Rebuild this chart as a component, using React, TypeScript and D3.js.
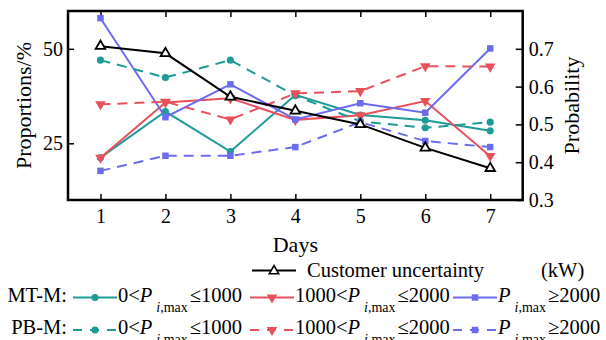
import { useEffect, useRef } from "react";
import * as d3 from "d3";

const days = [1, 2, 3, 4, 5, 6, 7];

// probability (right axis)
const customerUncertainty = [0.707, 0.688, 0.573, 0.536, 0.5, 0.438, 0.384];

// proportions in % (left axis)
const mtSmall = [21.2, 33.4, 22.8, 37.8, 32.5, 31.1, 28.3];
const mtMid = [21.2, 35.8, 36.9, 31.2, 32.4, 36.2, 21.6];
const mtLarge = [58.1, 31.9, 40.6, 31.3, 35.6, 33.1, 50.1];
const pbSmall = [47.0, 42.4, 47.0, 37.6, 30.8, 29.1, 30.6];
const pbMid = [35.3, 36.0, 31.3, 38.2, 38.8, 45.4, 45.3];
const pbLarge = [17.7, 21.7, 21.7, 24.0, 30.6, 25.6, 24.0];

const leftTicks = [25, 50];
const rightTicks = [0.3, 0.4, 0.5, 0.6, 0.7];

const rangeLabels = [
  { pre: "0<", post: "≤1000" },
  { pre: "1000<", post: "≤2000" },
  { pre: "", post: "≥2000" },
];

const TEAL = "#1f9b97";
const RED = "#e8505b";
const BLUE = "#6b6bef";
const FONT = "Liberation Serif, Times New Roman, serif";

type Marker = "circle" | "tri-down" | "square";

interface Series {
  values: number[];
  color: string;
  dashed: boolean;
  marker: Marker;
}

const series: Series[] = [
  { values: mtSmall, color: TEAL, dashed: false, marker: "circle" },
  { values: mtMid, color: RED, dashed: false, marker: "tri-down" },
  { values: mtLarge, color: BLUE, dashed: false, marker: "square" },
  { values: pbSmall, color: TEAL, dashed: true, marker: "circle" },
  { values: pbMid, color: RED, dashed: true, marker: "tri-down" },
  { values: pbLarge, color: BLUE, dashed: true, marker: "square" },
];

export default function App() {
  const svgRef = useRef<SVGSVGElement | null>(null);

  useEffect(() => {
    if (!svgRef.current) return;
    const W = 606;
    const H = 340;
    const plot = { left: 68, right: 522.7, top: 11, bottom: 200 };

    const svg = d3.select(svgRef.current);
    svg.selectAll("*").remove();
    svg.attr("width", W).attr("height", H).attr("font-family", FONT);

    const x = d3.scaleLinear().domain([0.5, 7.5]).range([plot.left, plot.right]);
    const yL = d3.scaleLinear().domain([10, 60]).range([plot.bottom, plot.top]);
    const yR = d3.scaleLinear().domain([0.3, 0.8]).range([plot.bottom, plot.top]);

    const symbolPath = (m: Marker) => {
      if (m === "circle") return d3.symbol(d3.symbolCircle, 40)()!;
      if (m === "square") return d3.symbol(d3.symbolSquare, 42)()!;
      return d3.symbol(d3.symbolTriangle, 48)()!;
    };
    const markerTransform = (m: Marker, px: number, py: number) =>
      m === "tri-down" ? `translate(${px},${py}) rotate(180)` : `translate(${px},${py})`;

    // axes
    const styleAxis = (g: d3.Selection<SVGGElement, unknown, null, undefined>) => {
      g.attr("font-family", FONT).attr("font-size", 20);
      g.select(".domain").remove();
      g.selectAll(".tick line").attr("stroke", "#000").attr("stroke-width", 1.5);
      g.selectAll(".tick text").attr("fill", "#000");
    };

    svg
      .append("g")
      .attr("transform", `translate(${plot.left},0)`)
      .call(d3.axisLeft(yL).tickValues(leftTicks).tickSize(-6).tickPadding(5).tickFormat(d3.format("d")))
      .call(styleAxis);

    svg
      .append("g")
      .attr("transform", `translate(${plot.right},0)`)
      .call(d3.axisRight(yR).tickValues(rightTicks).tickSize(-7).tickPadding(6).tickFormat(d3.format(".1f")))
      .call(styleAxis);

    svg
      .append("g")
      .attr("transform", `translate(0,${plot.bottom})`)
      .call(d3.axisBottom(x).tickValues(days).tickSize(-6).tickPadding(9).tickFormat(d3.format("d")))
      .call(styleAxis);

    svg
      .append("g")
      .attr("transform", `translate(0,${plot.top})`)
      .call(d3.axisTop(x).tickValues(days).tickSize(-6).tickFormat(() => ""))
      .call(styleAxis);

    // frame
    svg
      .append("rect")
      .attr("x", plot.left)
      .attr("y", plot.top)
      .attr("width", plot.right - plot.left)
      .attr("height", plot.bottom - plot.top)
      .attr("fill", "none")
      .attr("stroke", "#000")
      .attr("stroke-width", 2.5);

    // axis titles
    svg
      .append("text")
      .attr("transform", `translate(31,${(plot.top + plot.bottom) / 2}) rotate(-90)`)
      .attr("text-anchor", "middle")
      .attr("font-size", 22)
      .text("Proportions/%");

    svg
      .append("text")
      .attr("transform", `translate(579,${(plot.top + plot.bottom) / 2}) rotate(-90)`)
      .attr("text-anchor", "middle")
      .attr("font-size", 22)
      .text("Probability");

    svg
      .append("text")
      .attr("x", (plot.left + plot.right) / 2)
      .attr("y", 251.5)
      .attr("text-anchor", "middle")
      .attr("font-size", 22)
      .text("Days");

    // series lines
    series.forEach((s) => {
      const line = d3
        .line<number>()
        .x((_, i) => x(days[i]))
        .y((d) => yL(d));
      svg
        .append("path")
        .datum(s.values)
        .attr("d", line)
        .attr("fill", "none")
        .attr("stroke", s.color)
        .attr("stroke-width", 2)
        .attr("stroke-dasharray", s.dashed ? "10,7" : null);
      svg
        .append("g")
        .selectAll("path")
        .data(s.values)
        .enter()
        .append("path")
        .attr("d", symbolPath(s.marker))
        .attr("transform", (d, i) => markerTransform(s.marker, x(days[i]), yL(d)))
        .attr("fill", s.color);
    });

    // customer uncertainty (right axis)
    const blackLine = d3
      .line<number>()
      .x((_, i) => x(days[i]))
      .y((d) => yR(d));
    svg
      .append("path")
      .datum(customerUncertainty)
      .attr("d", blackLine)
      .attr("fill", "none")
      .attr("stroke", "#000")
      .attr("stroke-width", 2);
    svg
      .append("g")
      .selectAll("path")
      .data(customerUncertainty)
      .enter()
      .append("path")
      .attr("d", d3.symbol(d3.symbolTriangle, 40)()!)
      .attr("transform", (d, i) => `translate(${x(days[i])},${yR(d)})`)
      .attr("fill", "#fff")
      .attr("stroke", "#000")
      .attr("stroke-width", 1.8);

    // legend
    const legend = svg.append("g").attr("font-size", 20.5);

    legend
      .append("line")
      .attr("x1", 252)
      .attr("x2", 296)
      .attr("y1", 270.5)
      .attr("y2", 270.5)
      .attr("stroke", "#000")
      .attr("stroke-width", 2);
    legend
      .append("path")
      .attr("d", d3.symbol(d3.symbolTriangle, 38)()!)
      .attr("transform", "translate(274,271)")
      .attr("fill", "#fff")
      .attr("stroke", "#000")
      .attr("stroke-width", 1.6);
    legend.append("text").attr("x", 307).attr("y", 276.5).text("Customer uncertainty");
    legend.append("text").attr("x", 541).attr("y", 276.5).text("(kW)");

    const rows = [
      { label: "MT-M:", dashed: false, lineY: 297.5, baseY: 301.5 },
      { label: "PB-M:", dashed: true, lineY: 330, baseY: 333.5 },
    ];
    const colX = [73, 250, 453];
    const colors = [TEAL, RED, BLUE];
    const markers: Marker[] = ["circle", "tri-down", "square"];

    rows.forEach((r) => {
      legend
        .append("text")
        .attr("x", 67)
        .attr("y", r.baseY)
        .attr("text-anchor", "end")
        .text(r.label);

      colX.forEach((cx, j) => {
        legend
          .append("line")
          .attr("x1", cx)
          .attr("x2", cx + 44)
          .attr("y1", r.lineY)
          .attr("y2", r.lineY)
          .attr("stroke", colors[j])
          .attr("stroke-width", 2)
          .attr("stroke-dasharray", r.dashed ? "9,8" : null);
        legend
          .append("path")
          .attr("d", symbolPath(markers[j]))
          .attr("transform", markerTransform(markers[j], cx + 22, r.lineY))
          .attr("fill", colors[j]);

        const t = legend.append("text").attr("x", cx + 45).attr("y", r.baseY);
        if (rangeLabels[j].pre) t.append("tspan").text(rangeLabels[j].pre);
        t.append("tspan").attr("font-style", "italic").text("P");
        const sub = t.append("tspan").attr("dx", 4).attr("dy", 10).attr("font-size", 14);
        sub.append("tspan").attr("font-style", "italic").text("i");
        sub.append("tspan").text(",max");
        t.append("tspan").attr("dx", 2).attr("dy", -10).text(rangeLabels[j].post);
      });
    });
  }, []);

  return (
    <svg
      ref={svgRef}
      style={{ position: "absolute", left: 0, top: 0, background: "#fff" }}
    ></svg>
  );
}
